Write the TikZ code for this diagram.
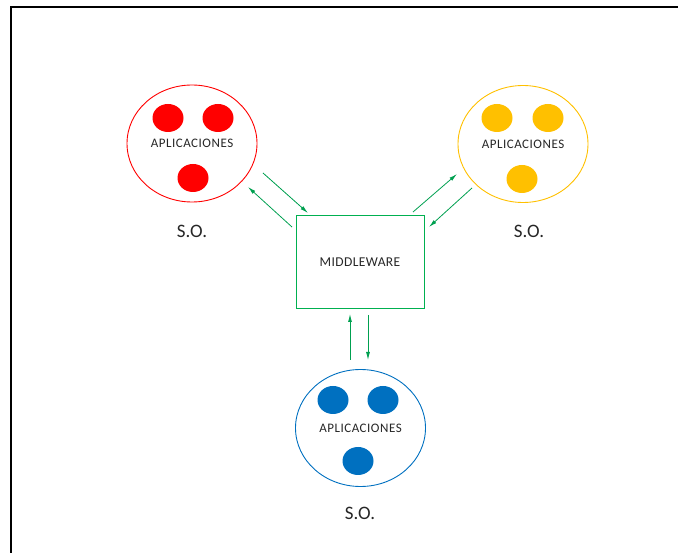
\documentclass[tikz,border=0pt]{standalone}
\usepackage{fontspec}
\setmainfont{Carlito}
\usetikzlibrary{shapes.geometric, arrows.meta}

\definecolor{osRed}{HTML}{FF0000}
\definecolor{osYellow}{HTML}{FFC000}
\definecolor{osBlue}{HTML}{0070C0}
\definecolor{mwGreen}{HTML}{00B050}
\definecolor{flowGreen}{HTML}{00A050}

\tikzset{
  osnode/.style={ellipse, draw, line width=0.9pt, minimum width=130pt, minimum height=117pt,
    inner sep=0pt, text=black!85, font=\fontsize{13}{15}\selectfont\addfontfeature{LetterSpace=4}},
  app/.style={ellipse, minimum width=31pt, minimum height=28pt, inner sep=0pt},
  osname/.style={text=black!85, font=\fontsize{19}{22}\selectfont},
  flow/.style={draw=flowGreen, line width=0.8pt, -{Latex[length=8pt,width=4pt]}}
}

\begin{document}
\begin{tikzpicture}[x=1pt,y=-1pt]
\useasboundingbox (0,0) rectangle (678,553);
\draw[line width=1.5pt] (11,553) -- (11,7) -- (678,7);

% red system
\node[osnode, draw=osRed] (R) at (192,143.5) {APLICACIONES};
\node[app, fill=osRed] (R1) at (168,118) {};
\node[app, fill=osRed] (R2) at (218,118) {};
\node[app, fill=osRed] (R3) at (193,178) {};
\node[osname] (Rso) at (192,231) {S.O.};

% yellow system
\node[osnode, draw=osYellow] (Y) at (523,144) {APLICACIONES};
\node[app, fill=osYellow] (Y1) at (497,118) {};
\node[app, fill=osYellow] (Y2) at (548,118) {};
\node[app, fill=osYellow] (Y3) at (522,179) {};
\node[osname] (Yso) at (529,231) {S.O.};

% blue system
\node[osnode, draw=osBlue] (B) at (360.5,428) {APLICACIONES};
\node[app, fill=osBlue] (B1) at (333,400) {};
\node[app, fill=osBlue] (B2) at (383,400) {};
\node[app, fill=osBlue] (B3) at (358,461) {};
\node[osname] (Bso) at (360,513) {S.O.};

% middleware
\node[draw=mwGreen, line width=1pt, minimum width=128pt, minimum height=93pt, inner sep=0pt,
  text=black!85, font=\fontsize{13.5}{15}\selectfont\addfontfeature{LetterSpace=3}] (M) at (360,262.5) {MIDDLEWARE};

% arrow ends
\coordinate (r1) at (263,173); \coordinate (r2) at (308,213);
\coordinate (r3) at (292,227); \coordinate (r4) at (248,187);
\coordinate (y1) at (413,212); \coordinate (y2) at (457,174);
\coordinate (y3) at (472,188); \coordinate (y4) at (429,227);
\coordinate (b1) at (350,360); \coordinate (b2) at (350,314);
\coordinate (b3) at (368,315); \coordinate (b4) at (368,360);

\draw[flow] (r1) -- (r2);
\draw[flow] (r3) -- (r4);
\draw[flow] (y1) -- (y2);
\draw[flow] (y3) -- (y4);
\draw[flow] (b1) -- (b2);
\draw[flow] (b3) -- (b4);
\end{tikzpicture}
\end{document}
